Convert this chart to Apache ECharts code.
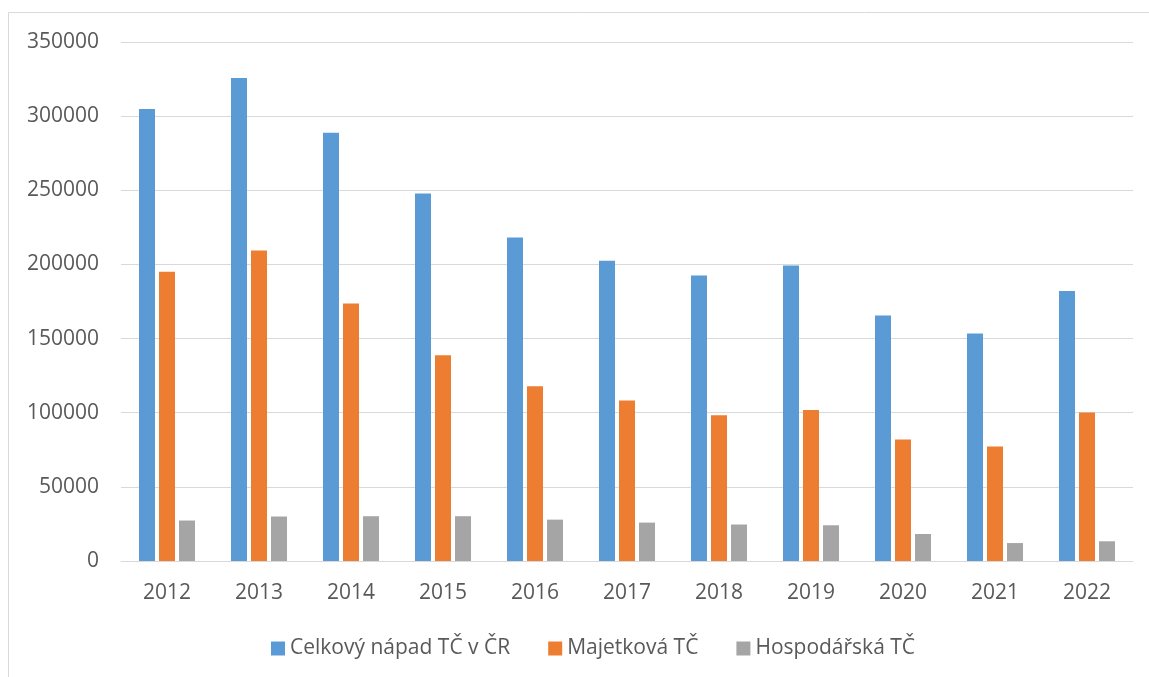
<!DOCTYPE html>
<html>
<head>
<meta charset="utf-8">
<script src="https://cdn.jsdelivr.net/npm/echarts@6/dist/echarts.min.js"></script>
<style>
html,body{margin:0;padding:0;background:#fff;}
#chart{width:1149px;height:677px;}
</style>
</head>
<body>
<div id="chart"></div>
<script>
const categories = ['2012','2013','2014','2015','2016','2017','2018','2019','2020','2021','2022'];
const seriesNames = ['Celkový nápad TČ v ČR','Majetková TČ','Hospodářská TČ'];
const celkovy = [304800, 325700, 288800, 247900, 218200, 202400, 192600, 199300, 165600, 153400, 182000];
const majetkova = [195000, 209400, 173700, 138800, 117900, 108200, 98300, 101900, 81900, 77200, 100100];
const hospodarska = [27300, 30000, 30200, 30200, 27900, 25900, 24600, 24100, 18200, 12100, 13300];
const colors = ['#5B9BD5','#ED7D31','#A5A5A5'];

const font = 'Open Sans';
const chart = echarts.init(document.getElementById('chart'));
chart.setOption({
  animation: false,
  color: colors,
  graphic: [{
    type: 'rect',
    shape: {x: 8.5, y: 12.5, width: 1300, height: 800},
    style: {fill: 'none', stroke: '#D9D9D9', lineWidth: 1}
  }],
  grid: {left: 121, right: 16, top: 42, bottom: 116},
  legend: {
    data: seriesNames,
    bottom: 13,
    left: 266,
    itemWidth: 14,
    itemHeight: 14,
    itemGap: 38,
    icon: 'rect',
    textStyle: {color: '#595959', fontSize: 21, fontFamily: font}
  },
  xAxis: {
    type: 'category',
    data: categories,
    axisLine: {lineStyle: {color: '#D9D9D9', width: 1}},
    axisTick: {show: false},
    axisLabel: {color: '#595959', fontSize: 21, fontFamily: font, margin: 22}
  },
  yAxis: {
    type: 'value',
    min: 0,
    max: 350000,
    interval: 50000,
    axisLine: {show: false},
    axisTick: {show: false},
    splitLine: {lineStyle: {color: '#D9D9D9', width: 1}},
    axisLabel: {color: '#595959', fontSize: 21, fontFamily: font, margin: 22, formatter: v => String(v)}
  },
  series: [
    {name: seriesNames[0], type: 'bar', data: celkovy, barWidth: 16, barGap: '25%'},
    {name: seriesNames[1], type: 'bar', data: majetkova, barWidth: 16, barGap: '25%'},
    {name: seriesNames[2], type: 'bar', data: hospodarska, barWidth: 16, barGap: '25%'}
  ]
});
</script>
</body>
</html>
